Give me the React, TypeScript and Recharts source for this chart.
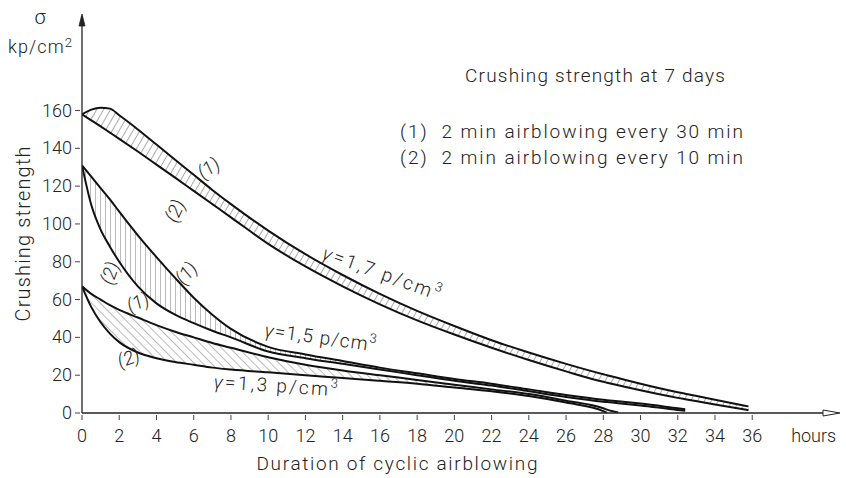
import React from 'react';
import { ComposedChart, Line, Area, XAxis, YAxis, ReferenceDot } from 'recharts';

// hours of cyclic airblowing
const hours = [0, 0.5, 1, 1.5, 2, 3, 4, 5, 6, 7, 8, 10, 12, 14, 16, 18, 20, 22, 24, 26, 28, 28.2, 28.8, 30, 32, 32.4, 34, 35.8];
// gamma = 1.7 p/cm3
const g17_1 = [158, 160.5, 161.5, 161, 157.5, 150, 142, 134, 126, 118, 110.5, 96.5, 84, 73, 63, 54, 46, 38.5, 32, 26, 20.5, 20, 18.5, 15.5, 11, 10.2, 7, 3.5];
const g17_2 = [158, 154.8, 151.6, 148.3, 145, 138.3, 131.4, 124.5, 117.5, 110.5, 103.5, 89.5, 77.5, 67, 57.5, 49, 41.5, 34.5, 28, 22, 16.5, 16.05, 14.7, 12, 8, 7.3, 4.5, 1.5];
// gamma = 1.5 p/cm3
const g15_1 = [131, 125, 119, 113, 106.5, 94, 82.5, 71.5, 61, 52, 44.5, 35, 31, 27.5, 24, 21, 18, 15.5, 12.5, 9.5, 7, 6.8, 6.2, 5, 2.5, 2, null, null];
const g15_2 = [131, 110, 97, 88, 80, 67, 58, 52, 47.5, 43.5, 40, 32.5, 29, 26, 23, 20, 17, 14.5, 11.5, 8.5, 6, 5.8, 5.2, 4, 1.6, 1.2, null, null];
// gamma = 1.3 p/cm3
const g13_1 = [67, 63, 60, 57, 54.5, 50.5, 46.5, 43, 40, 37, 34.5, 29.5, 25.5, 22.5, 20, 17.5, 15, 12.5, 10, 6.5, 2.5, 1.8, 0.3, null, null, null, null, null];
const g13_2 = [67, 56, 48, 42, 37.5, 32, 29, 27, 25.5, 24, 23, 21.5, 20, 18.5, 17, 15.5, 13.5, 11.5, 9, 5.5, 1, 0, null, null, null, null, null, null];

const xTicks = [0, 2, 4, 6, 8, 10, 12, 14, 16, 18, 20, 22, 24, 26, 28, 30, 32, 34, 36, 39.3];
const yTicks = [0, 20, 40, 60, 80, 100, 120, 140, 160];
const xUnitLabel = 'hours';

const yTitle = 'Crushing strength';
const xTitle = 'Duration of cyclic airblowing';
const legendTitle = 'Crushing strength at 7 days';
const legendLines = ['(1)  2 min airblowing every 30 min', '(2)  2 min airblowing every 10 min'];

// curve annotations: [hour, value, text, angle]
const curveLabels: [number, number, string, number][] = [
  [6.8, 129.5, '(1)', -35],
  [5.0, 107, '(2)', -65],
  [5.6, 74, '(1)', -50],
  [1.5, 74, '(2)', -70],
  [3.0, 58.5, '(1)', -25],
  [2.5, 29, '(2)', -20],
];
const gammaLabels: [number, number, string, number, number][] = [
  [16.1, 74, '1,7', 20, 124],
  [12.8, 40, '1,5', 8, 112],
  [10.4, 14.5, '1,3', 4, 124],
];

const band = (lo: (number | null)[], hi: (number | null)[], i: number) =>
  lo[i] != null && hi[i] != null ? [lo[i], hi[i]] : null;

const data = hours.map((h, i) => ({
  hour: h,
  g17_1: g17_1[i],
  g17_2: g17_2[i],
  g15_1: g15_1[i],
  g15_2: g15_2[i],
  g13_1: g13_1[i],
  g13_2: g13_2[i],
  band17: band(g17_2, g17_1, i),
  band15: band(g15_2, g15_1, i),
  band13: band(g13_2, g13_1, i),
}));

const FONT = "Roboto, 'DejaVu Sans', sans-serif";
const INK = '#222';

const XTick = (props: any) => {
  const { x, y, payload } = props;
  if (payload.value === 39.3) {
    return (
      <text x={x} y={y + 29} textAnchor="middle" fontSize={18} fontFamily={FONT} fill={INK} fontWeight={300}>
        {xUnitLabel}
      </text>
    );
  }
  return (
    <g>
      <line x1={x} x2={x} y1={y + 2} y2={y + 7} stroke="#444" strokeWidth={1} />
      <text x={x} y={y + 29} textAnchor="middle" fontSize={18} fontFamily={FONT} fill={INK} fontWeight={300}>
        {payload.value}
      </text>
    </g>
  );
};

const YTick = (props: any) => {
  const { x, y, payload } = props;
  return (
    <g>
      <line x1={x - 7} x2={x - 2} y1={y} y2={y} stroke="#444" strokeWidth={1} />
      <text x={x - 10} y={y + 6} textAnchor="end" fontSize={18} fontFamily={FONT} fill={INK} fontWeight={300}>
        {payload.value}
      </text>
    </g>
  );
};

const ArrowUp = (p: any) => (
  <path d={`M${p.cx},${p.cy - 2} L${p.cx - 3},${p.cy + 10} L${p.cx + 3},${p.cy + 10} Z`} fill={INK} stroke={INK} strokeWidth={0.8} />
);
const ArrowRight = (p: any) => (
  <path d={`M${p.cx - 13},${p.cy - 3} L${p.cx + 4},${p.cy} L${p.cx - 13},${p.cy + 3} Z`} fill="#fff" stroke={INK} strokeWidth={1} />
);

const makeLabel = (text: string, angle: number) => (p: any) => (
  <text
    x={p.cx}
    y={p.cy}
    transform={`rotate(${angle} ${p.cx} ${p.cy})`}
    textAnchor="middle"
    dominantBaseline="central"
    fontSize={19}
    fontStyle="italic"
    fontFamily={FONT}
    fill={INK}
    fontWeight={300}
  >
    {text}
  </text>
);

const makeGamma = (val: string, angle: number, len: number) => (p: any) => (
  <text
    x={p.cx}
    y={p.cy}
    transform={`rotate(${angle} ${p.cx} ${p.cy})`}
    textAnchor="middle"
    dominantBaseline="central"
    fontSize={19}
    fontFamily={FONT}
    fill={INK}
    fontWeight={300}
    textLength={len}
    lengthAdjust="spacing"
  >
    <tspan fontStyle="italic">γ</tspan>
    {`=${val} p/cm`}
    <tspan fontSize={13} dy={-7}>3</tspan>
  </text>
);

export default function App() {
  return (
    <div style={{ position: 'absolute', left: 0, top: 0, width: 846, height: 478, background: '#fff' }}>
      <ComposedChart
        width={846}
        height={478}
        data={data}
        margin={{ top: 16, right: 10, bottom: 35, left: 32 }}
      >
        <defs>
          <pattern id="hatch17" width="6" height="6" patternUnits="userSpaceOnUse" patternTransform="rotate(30)">
            <line x1="0" y1="0" x2="0" y2="6" stroke="#555" strokeWidth="1" />
          </pattern>
          <pattern id="hatch15" width="5" height="5" patternUnits="userSpaceOnUse">
            <line x1="0" y1="0" x2="0" y2="5" stroke="#555" strokeWidth="0.8" />
          </pattern>
          <pattern id="hatch13" width="6" height="6" patternUnits="userSpaceOnUse" patternTransform="rotate(-45)">
            <line x1="0" y1="0" x2="0" y2="6" stroke="#555" strokeWidth="0.8" />
          </pattern>
        </defs>
        <XAxis
          dataKey="hour"
          type="number"
          domain={[0, 40.5]}
          ticks={xTicks}
          interval={0}
          tickSize={0}
          tickMargin={0}
          tickLine={false}
          tick={<XTick />}
          axisLine={{ stroke: INK, strokeWidth: 1.3 }}
          height={30}
          allowDataOverflow
        />
        <YAxis
          type="number"
          domain={[0, 210]}
          ticks={yTicks}
          interval={0}
          tickSize={0}
          tickMargin={0}
          tickLine={false}
          tick={<YTick />}
          axisLine={{ stroke: INK, strokeWidth: 1.3 }}
          width={50}
          allowDataOverflow
        />
        <Area dataKey="band17" type="monotone" stroke="none" fill="url(#hatch17)" fillOpacity={1} isAnimationActive={false} dot={false} activeDot={false} />
        <Area dataKey="band15" type="monotone" stroke="none" fill="url(#hatch15)" fillOpacity={1} isAnimationActive={false} dot={false} activeDot={false} />
        <Area dataKey="band13" type="monotone" stroke="none" fill="url(#hatch13)" fillOpacity={1} isAnimationActive={false} dot={false} activeDot={false} />
        {['g17_1', 'g17_2', 'g15_1', 'g15_2', 'g13_1', 'g13_2'].map((k) => (
          <Line key={k} dataKey={k} type="monotone" stroke="#111" strokeWidth={2} dot={false} activeDot={false} isAnimationActive={false} />
        ))}
        <ReferenceDot x={0} y={210} r={0} ifOverflow="visible" shape={ArrowUp} />
        <ReferenceDot x={40.5} y={0} r={0} ifOverflow="visible" shape={ArrowRight} />
        {curveLabels.map(([h, v, t, a], i) => (
          <ReferenceDot key={'c' + i} x={h} y={v} r={0} ifOverflow="visible" shape={makeLabel(t, a)} />
        ))}
        {gammaLabels.map(([h, v, t, a, len], i) => (
          <ReferenceDot key={'g' + i} x={h} y={v} r={0} ifOverflow="visible" shape={makeGamma(t, a, len)} />
        ))}
      </ComposedChart>
      <svg width={846} height={478} style={{ position: 'absolute', left: 0, top: 0, pointerEvents: 'none' }}>
        <g fontFamily={FONT} fill={INK} fontWeight={300}>
          <text x={40} y={24} textAnchor="middle" fontSize={20}>σ</text>
          <text x={40} y={53} textAnchor="middle" fontSize={18} textLength={64} lengthAdjust="spacing">
            kp/cm<tspan fontSize={13} dy={-6}>2</tspan>
          </text>
          <text x={23} y={234} textAnchor="middle" fontSize={20} transform="rotate(-90 23 234)" dominantBaseline="central" textLength={175} lengthAdjust="spacing">
            {yTitle}
          </text>
          <text x={397} y={470} textAnchor="middle" fontSize={19} textLength={281} lengthAdjust="spacing">{xTitle}</text>
          <text x={595} y={82} textAnchor="middle" fontSize={19} textLength={260} lengthAdjust="spacing">{legendTitle}</text>
          {legendLines.map((l, i) => (
            <text key={i} x={400} y={138 + i * 26} fontSize={19} textLength={343} lengthAdjust="spacing" style={{ whiteSpace: 'pre' }}>{l}</text>
          ))}
        </g>
      </svg>
    </div>
  );
}
